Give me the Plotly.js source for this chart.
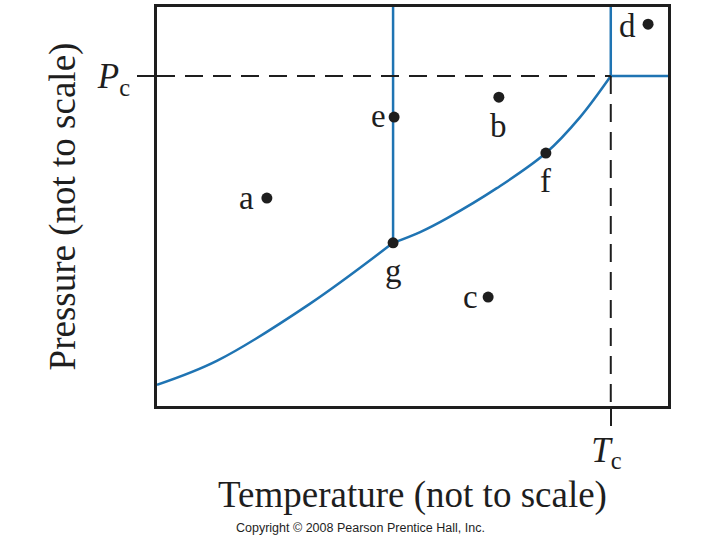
<!DOCTYPE html>
<html>
<head>
<meta charset="utf-8">
<script src="https://cdn.plot.ly/plotly-3.0.1.min.js"></script>
<style>html,body{margin:0;padding:0;background:#fff;}#chart{width:720px;height:540px;}</style>
</head>
<body>
<div id="chart"></div>
<script>
// Vapor-pressure (liquid/gas) boundary curve
var curveT = [0, 1.17, 2.99, 4.62, 5.15, 5.68, 6.65, 7.61, 8.28, 8.88];
var curveP = [0.53, 1.13, 2.56, 4.09, 4.36, 4.71, 5.46, 6.34, 7.24, 8.27];
// Critical point
var Tc = 8.88;
var Pc = 8.27;
// Labelled state points
var pointNames = ['a', 'b', 'c', 'd', 'e', 'f', 'g'];
var pointT = [2.15, 6.69, 6.48, 9.61, 4.64, 7.61, 4.62];
var pointP = [5.21, 7.74, 2.73, 9.57, 7.24, 6.34, 4.09];
// Upper bounds of the boundary lines
var topP = 10;
var rightT = 10;

var blue = '#1f74b3';
var ink = '#1e1e1e';
var serif = 'Liberation Serif, Times New Roman, serif';

// label placement relative to each point (style, not data)
var labelPos = {
  a: {ax: -20, ay: 0}, b: {ax: 0, ay: 29}, c: {ax: -18, ay: 0},
  d: {ax: -21, ay: 2}, e: {ax: -16, ay: -1}, f: {ax: 0, ay: 28}, g: {ax: 0, ay: 28}
};

var gIdx = pointNames.indexOf('g');
// split the boundary at the triple point g so the bend there stays sharp
var split = curveT.indexOf(pointT[gIdx]);

var traces = [
  {x: curveT.slice(0, split + 1), y: curveP.slice(0, split + 1), mode: 'lines', line: {color: blue, width: 2.5, shape: 'spline', smoothing: 1}, hoverinfo: 'skip'},
  {x: curveT.slice(split), y: curveP.slice(split), mode: 'lines', line: {color: blue, width: 2.5, shape: 'spline', smoothing: 1}, hoverinfo: 'skip'},
  {x: [pointT[gIdx], pointT[gIdx]], y: [pointP[gIdx], topP], mode: 'lines', line: {color: blue, width: 2.5}, hoverinfo: 'skip'},
  {x: [Tc, Tc, rightT], y: [topP, Pc, Pc], mode: 'lines', line: {color: blue, width: 2.5}, hoverinfo: 'skip'},
  {x: [0, Tc], y: [Pc, Pc], mode: 'lines', line: {color: ink, width: 2, dash: '18px,10px'}, hoverinfo: 'skip'},
  {x: [Tc, Tc], y: [Pc, 0], mode: 'lines', line: {color: ink, width: 2, dash: '18px,10px'}, hoverinfo: 'skip'},
  {x: pointT, y: pointP, mode: 'markers', marker: {color: ink, size: 11}, hoverinfo: 'skip'}
];

var annotations = pointNames.map(function (n, i) {
  return {
    x: pointT[i], y: pointP[i], xref: 'x', yref: 'y',
    text: n, showarrow: false,
    xshift: labelPos[n].ax, yshift: -labelPos[n].ay,
    font: {family: serif, size: 33, color: ink}
  };
});
annotations.push({
  x: 0.5, y: 0.005, xref: 'paper', yref: 'paper', yanchor: 'bottom', xanchor: 'center',
  xshift: -52, yshift: -133,
  text: 'Copyright \u00a9 2008 Pearson Prentice Hall, Inc.', showarrow: false,
  font: {family: 'Liberation Sans, Arial, sans-serif', size: 12.5, color: ink}
});

var layout = {
  width: 720, height: 540,
  margin: {l: 157, r: 52, t: 7, b: 134, pad: 0},
  paper_bgcolor: '#fff', plot_bgcolor: '#fff',
  showlegend: false,
  xaxis: {
    range: [0, 10], showgrid: false, zeroline: false,
    showline: true, mirror: true, linecolor: ink, linewidth: 3,
    tickmode: 'array', tickvals: [Tc], ticktext: ['<i>T</i><sub>c</sub> '],
    ticks: 'outside', ticklen: 17, tickwidth: 2, tickcolor: ink,
    ticklabelstandoff: -6,
    tickfont: {family: serif, size: 35, color: ink},
    title: {text: 'Temperature (not to scale)', font: {family: serif, size: 37, color: ink}, standoff: 0},
    fixedrange: true
  },
  yaxis: {
    range: [0, 10], showgrid: false, zeroline: false,
    showline: true, mirror: true, linecolor: ink, linewidth: 3,
    tickmode: 'array', tickvals: [Pc], ticktext: ['<i>P</i><sub>c</sub>'],
    ticks: 'outside', ticklen: 17, tickwidth: 2, tickcolor: ink,
    tickfont: {family: serif, size: 35, color: ink},
    title: {text: 'Pressure (not to scale)', font: {family: serif, size: 37, color: ink}, standoff: 10},
    fixedrange: true
  },
  annotations: annotations
};

Plotly.newPlot('chart', traces, layout, {staticPlot: true, displayModeBar: false});
</script>
</body>
</html>
